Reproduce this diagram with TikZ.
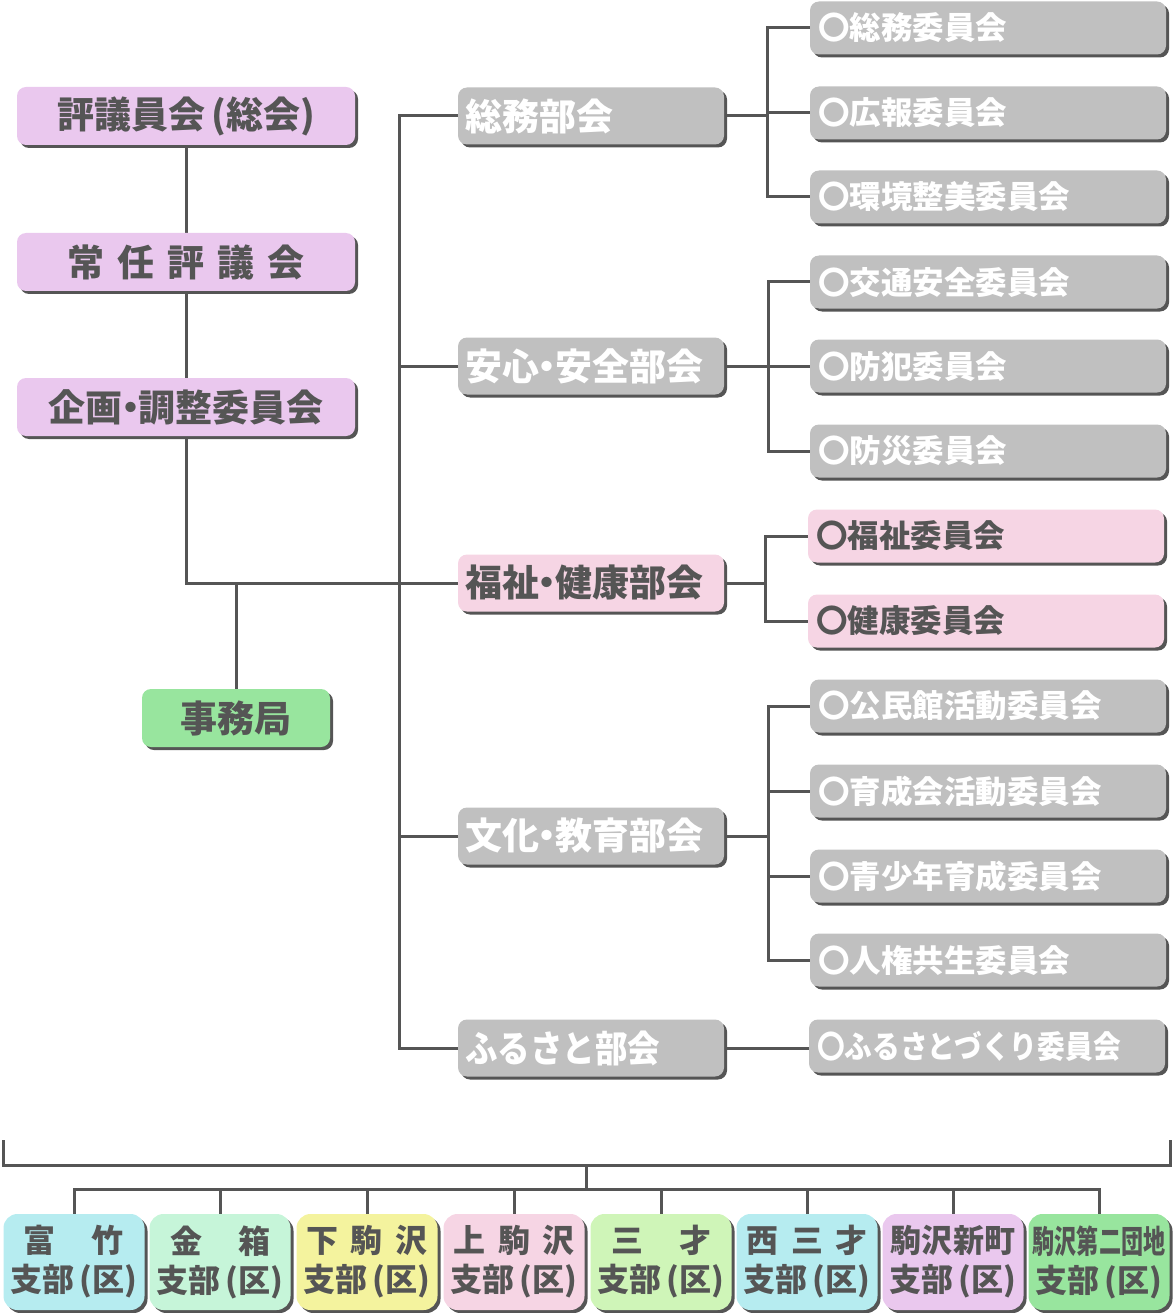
\documentclass[tikz,border=0pt]{standalone}
\usepackage{fontspec}
\newfontfamily\jp{Noto Sans CJK JP Black}
\usetikzlibrary{shadows,backgrounds}
\definecolor{lav}{HTML}{EAC8EE}
\definecolor{gry}{HTML}{C0C0C0}
\definecolor{pnk}{HTML}{F6D5E4}
\definecolor{grn}{HTML}{98E59E}
\definecolor{cyn}{HTML}{B6ECF0}
\definecolor{mnt}{HTML}{C6F5D9}
\definecolor{ylw}{HTML}{F4F39E}
\definecolor{lgr}{HTML}{CFF5B8}
\definecolor{txt}{HTML}{555555}
\definecolor{shd}{HTML}{555555}
\definecolor{ln}{HTML}{555555}
\newcommand{\md}{\hspace{-0.28em}・\hspace{-0.28em}}
\tikzset{
  base/.style={rounded corners=9pt, inner sep=0pt, text=txt,
    drop shadow={shadow xshift=3pt, shadow yshift=-3pt, fill=shd, opacity=1}},
  lbox/.style={base, fill=lav, minimum width=338pt, minimum height=58pt,
    font=\jp\fontsize{37}{42}\selectfont},
  jbox/.style={base, fill=grn, minimum width=188pt, minimum height=58pt,
    font=\jp\fontsize{37}{42}\selectfont},
  bubox/.style={base, fill=gry, text=white, minimum width=266pt, minimum height=57pt,
    text width=252pt, align=left, font=\jp\fontsize{37}{42}\selectfont},
  cbox/.style={base, fill=gry, text=white, minimum width=356pt, minimum height=53pt,
    text width=340pt, align=left, font=\jp\fontsize{31.5}{36}\selectfont},
  sbox/.style={base, rounded corners=14pt, minimum width=141pt, minimum height=96pt,
    align=center, font=\jp\fontsize{32}{39}\selectfont},
  conn/.style={draw=ln, line width=3pt, line join=miter}
}
\begin{document}
\begin{tikzpicture}[x=1pt,y=-1pt]
\useasboundingbox (0,0) rectangle (1173,1313);
% left column
\node[lbox] (hyogi) at (186,116) {評議員会\,(総会)};
\node[lbox] (jonin) at (186,262) {常\hspace{13pt}任\hspace{13pt}評\hspace{13pt}議\hspace{13pt}会};
\node[lbox] (kikaku) at (186,407) {企画\md 調整委員会};
\node[jbox] (jimu) at (236,718) {事務局};
% departments
\node[bubox] (bu1) at (591,116) {総務部会};
\node[bubox] (bu2) at (591,366) {安心\md 安全部会};
\node[bubox, fill=pnk, text=txt] (bu3) at (591,583) {福祉\md 健康部会};
\node[bubox] (bu4) at (591,836) {文化\md 教育部会};
\node[bubox] (bu5) at (591,1048) {\scalebox{0.88}[1]{ふるさと部会}};
% committees
\node[cbox] (c11) at (988,28) {〇総務委員会};
\node[cbox] (c12) at (988,113) {〇広報委員会};
\node[cbox] (c13) at (988,197) {〇環境整美委員会};
\node[cbox] (c21) at (988,282) {〇交通安全委員会};
\node[cbox] (c22) at (988,366) {〇防犯委員会};
\node[cbox] (c23) at (988,451) {〇防災委員会};
\node[cbox, fill=pnk, text=txt] (c31) at (986,536) {〇福祉委員会};
\node[cbox, fill=pnk, text=txt] (c32) at (986,621) {〇健康委員会};
\node[cbox] (c41) at (988,706) {〇公民館活動委員会};
\node[cbox] (c42) at (988,791) {〇育成会活動委員会};
\node[cbox] (c43) at (988,876) {〇青少年育成委員会};
\node[cbox] (c44) at (988,960) {〇人権共生委員会};
\node[cbox] (c51) at (987,1046) {\scalebox{0.88}[1]{〇ふるさとづくり委員会}};
% branches
\node[sbox, fill=cyn] (s1) at (74,1262) {富\hspace{36pt}竹\\支部\,(区)};
\node[sbox, fill=mnt] (s2) at (220,1262) {金\hspace{36pt}箱\\支部\,(区)};
\node[sbox, fill=ylw] (s3) at (367,1262) {下\hspace{13pt}駒\hspace{13pt}沢\\支部\,(区)};
\node[sbox, fill=pnk] (s4) at (514,1262) {上\hspace{13pt}駒\hspace{13pt}沢\\支部\,(区)};
\node[sbox, fill=lgr] (s5) at (661,1262) {三\hspace{36pt}才\\支部\,(区)};
\node[sbox, fill=cyn] (s6) at (807,1262) {西\hspace{13pt}三\hspace{13pt}才\\支部\,(区)};
\node[sbox, fill=lav] (s7) at (953,1262) {\scalebox{0.97}[1]{駒沢新町}\\支部\,(区)};
\node[sbox, fill=grn] (s8) at (1099,1262) {\scalebox{0.69}[1]{駒沢第二団地}\\支部\,(区)};
% connectors
\begin{scope}[on background layer]
\draw[conn] (hyogi) -- (jonin) -- (kikaku);
\draw[conn] (kikaku.south) |- (bu3.west);
\draw[conn] (jimu.north) -- (jimu.north |- bu3.west);
\coordinate (tr) at (399,116);
\draw[conn] (bu1.west) -| (tr) |- (bu5.west);
\foreach \n in {bu2,bu3,bu4} \draw[conn] (\n.west) -- (\n.west -| tr);
\coordinate (j1) at (767,116);
\draw[conn] (bu1.east) -- (j1);
\draw[conn] (c11.west) -| (j1) |- (c13.west);
\draw[conn] (c12.west) -- (c12.west -| j1);
\coordinate (j2) at (768,366);
\draw[conn] (bu2.east) -- (j2);
\draw[conn] (c21.west) -| (j2) |- (c23.west);
\draw[conn] (c22.west) -- (c22.west -| j2);
\coordinate (j3) at (765,583);
\draw[conn] (bu3.east) -- (j3);
\draw[conn] (c31.west) -| (j3) |- (c32.west);
\coordinate (j4) at (768,836);
\draw[conn] (bu4.east) -- (j4);
\draw[conn] (c41.west) -| (j4) |- (c44.west);
\draw[conn] (c42.west) -- (c42.west -| j4);
\draw[conn] (c43.west) -- (c43.west -| j4);
\draw[conn] (bu5.east) -- (bu5.east -| c51.west);
% bottom bracket
\coordinate (bkl) at (3,1140);
\coordinate (bkr) at (1170,1140);
\coordinate (bkm) at (586,1165);
\coordinate (bkn) at (586,1189);
\draw[conn] (bkl) |- (bkm) -| (bkr);
\draw[conn] (bkm) -- (bkn);
\draw[conn] (s1.north) |- (bkn) -| (s8.north);
\foreach \s in {s2,s3,s4,s5,s6,s7} \draw[conn] (\s.north) -- (\s.north |- bkn);
\end{scope}
\end{tikzpicture}
\end{document}
